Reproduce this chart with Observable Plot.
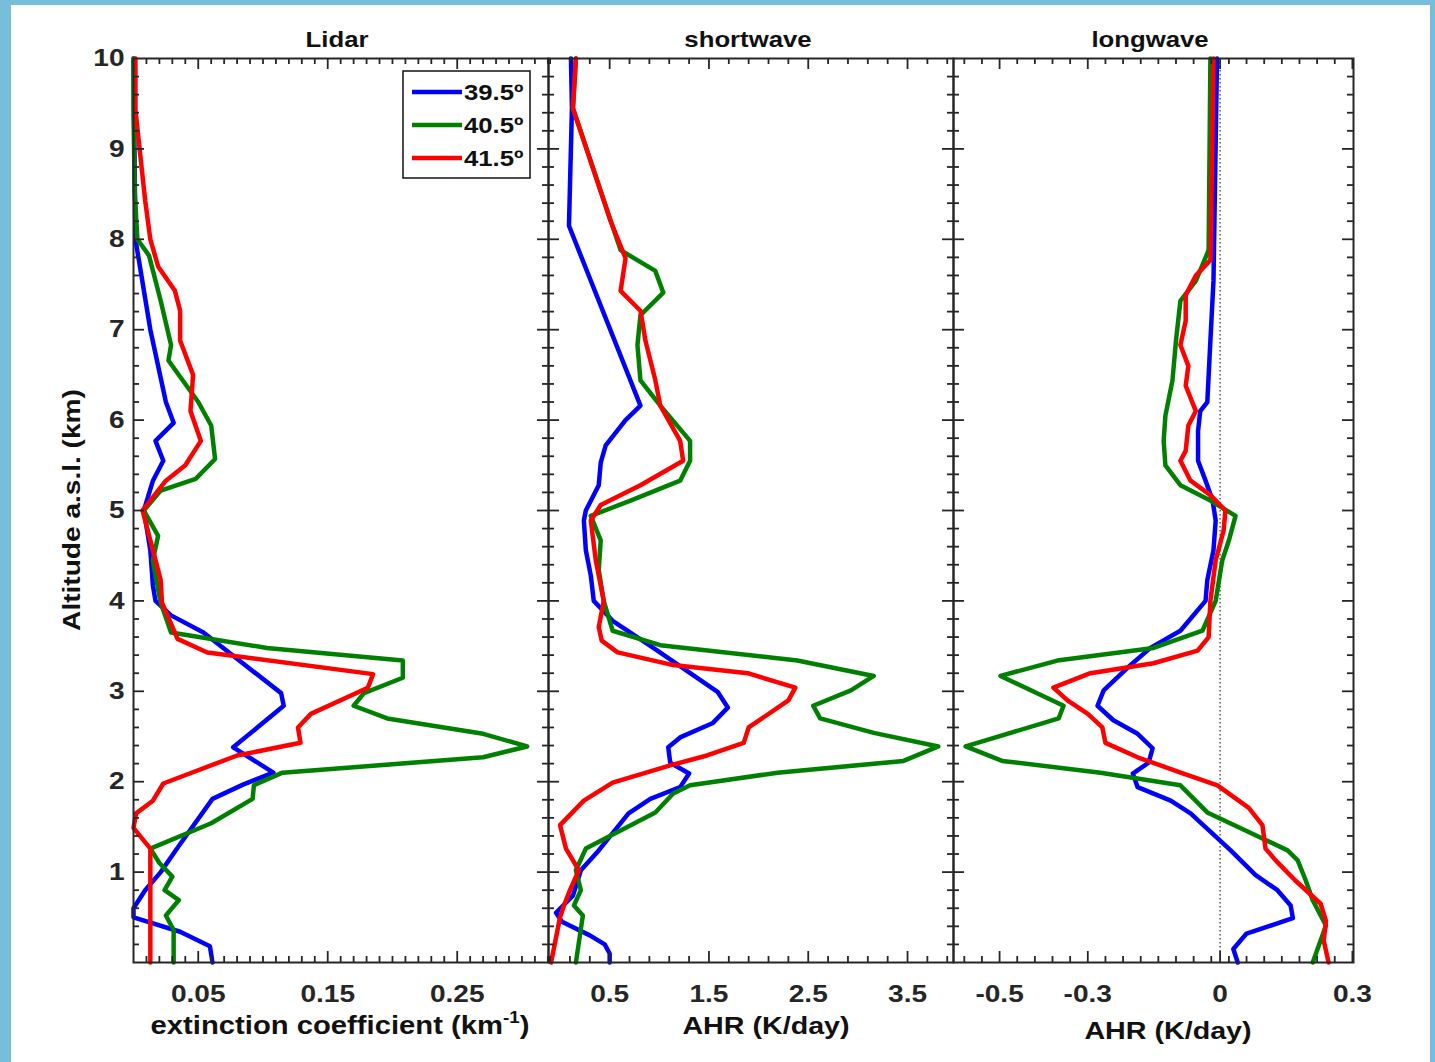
<!DOCTYPE html>
<html><head><meta charset="utf-8">
<script src="https://cdn.jsdelivr.net/npm/d3@7"></script>
<script src="https://cdn.jsdelivr.net/npm/@observablehq/plot@0.6"></script>
<style>
html,body{margin:0;padding:0;}
body{width:1435px;height:1062px;background:#77bedb;position:relative;overflow:hidden;font-family:"Liberation Sans",Arial,sans-serif;}
#page{position:absolute;left:11px;top:5px;width:1419px;height:1057px;background:#fff;}
.panel{position:absolute;}
#overlay{position:absolute;left:0;top:0;}
</style></head><body>
<div id="page"></div>
<div id="charts"></div>
<script>
// ---- data: [altitude km, value] pairs ----
const seriesNames = ["39.5º", "40.5º", "41.5º"];
const seriesColors = ["#0000ff", "#008000", "#ff0000"];

const lidar395 = [[10,0],[8.0,0.0015],[7.0,0.013],[6.2,0.025],[5.97,0.031],[5.77,0.017],[5.55,0.023],[5.33,0.015],[5.0,0.008],[4.56,0.013],[4.17,0.015],[4.0,0.017],[3.84,0.029],[3.65,0.054],[2.98,0.114],[2.84,0.116],[2.38,0.077],[2.10,0.108],[1.97,0.085],[1.81,0.061],[1.27,0.034],[1.0,0.021],[0.8,0.009],[0.6,0],[0.5,0],[0.34,0.036],[0.18,0.059],[0,0.061]];
const lidar405 = [[10,0],[9.4,0],[8.5,0.001],[8.0,0.003],[7.82,0.012],[7.32,0.021],[6.83,0.029],[6.66,0.027],[6.2,0.05],[5.94,0.06],[5.57,0.063],[5.35,0.048],[5.22,0.021],[5.0,0.008],[4.72,0.019],[4.45,0.015],[4.28,0.017],[3.98,0.021],[3.65,0.029],[3.48,0.103],[3.34,0.208],[3.15,0.208],[2.98,0.178],[2.84,0.17],[2.70,0.196],[2.53,0.27],[2.39,0.304],[2.27,0.27],[2.10,0.115],[1.96,0.093],[1.81,0.092],[1.54,0.06],[1.26,0.013],[1.1,0.02],[0.95,0.03],[0.8,0.024],[0.69,0.035],[0.52,0.025],[0.36,0.031],[0,0.031]];
const lidar415 = [[10,0.0015],[9.43,0.0015],[8.43,0.009],[8.0,0.013],[7.7,0.019],[7.43,0.032],[7.21,0.036],[6.88,0.036],[6.5,0.046],[6.1,0.044],[5.77,0.052],[5.5,0.04],[5.33,0.025],[5.0,0.007],[4.67,0.013],[4.23,0.021],[3.98,0.022],[3.58,0.034],[3.43,0.057],[3.19,0.185],[3.04,0.181],[2.75,0.137],[2.60,0.127],[2.43,0.129],[2.29,0.080],[1.98,0.023],[1.79,0.015],[1.65,0.002],[1.49,0],[1.26,0.013],[0,0.013]];

const sw395 = [[10,0.11],[9.45,0.12],[8.15,0.09],[6.16,0.81],[6.0,0.66],[5.72,0.46],[5.53,0.41],[5.28,0.39],[5.0,0.26],[4.89,0.24],[4.56,0.26],[4.28,0.31],[4.0,0.34],[3.78,0.53],[3.48,0.94],[2.99,1.59],[2.82,1.69],[2.65,1.54],[2.49,1.21],[2.38,1.09],[2.21,1.11],[2.09,1.30],[1.94,1.21],[1.81,0.91],[1.65,0.69],[1.24,0.39],[1.02,0.21],[0.74,0.13],[0.55,-0.04],[0.45,0.02],[0.3,0.3],[0.2,0.45],[0.1,0.5],[0,0.5]];
const sw405 = [[10,0.16],[9.45,0.13],[7.88,0.61],[7.65,0.96],[7.41,1.04],[7.16,0.81],[6.83,0.78],[6.44,0.81],[6.16,1.01],[5.77,1.31],[5.55,1.31],[5.33,1.21],[5.11,0.71],[4.94,0.31],[4.67,0.41],[4.34,0.39],[4.0,0.44],[3.67,0.53],[3.51,1.01],[3.34,2.39],[3.17,3.16],[3.01,2.93],[2.84,2.55],[2.70,2.62],[2.54,3.16],[2.39,3.81],[2.23,3.46],[2.10,2.19],[1.96,1.31],[1.87,1.14],[1.66,0.96],[1.26,0.26],[1.02,0.16],[0.8,0.21],[0.63,0.14],[0.52,0.23],[0,0.16]];
const sw415 = [[10,0.16],[9.45,0.13],[8.2,0.51],[7.79,0.66],[7.43,0.61],[7.21,0.81],[6.88,0.86],[6.44,0.96],[6.16,1.01],[5.77,1.21],[5.55,1.24],[5.28,0.81],[5.06,0.41],[4.89,0.31],[4.45,0.36],[4.0,0.44],[3.71,0.39],[3.56,0.42],[3.43,0.58],[3.29,1.14],[3.2,1.89],[3.04,2.37],[2.9,2.30],[2.60,1.90],[2.43,1.85],[2.29,1.48],[2.18,1.11],[1.99,0.53],[1.79,0.24],[1.52,0.0],[1.26,0.06],[1.02,0.19],[0.8,0.1],[0.63,0.04],[0.5,0.0],[0,-0.09]];

const lw395 = [[10,-0.007],[7.54,-0.015],[6.88,-0.022],[6.2,-0.029],[6.1,-0.045],[5.88,-0.05],[5.55,-0.05],[5.33,-0.033],[5.11,-0.017],[4.89,-0.01],[4.56,-0.015],[4.23,-0.029],[4.0,-0.033],[3.67,-0.09],[3.48,-0.158],[3.26,-0.21],[3.01,-0.264],[2.84,-0.278],[2.68,-0.242],[2.53,-0.187],[2.37,-0.153],[2.21,-0.162],[2.09,-0.198],[1.94,-0.187],[1.79,-0.112],[1.65,-0.067],[1.24,0.024],[0.97,0.08],[0.8,0.13],[0.63,0.16],[0.49,0.165],[0.32,0.06],[0.15,0.03],[0,0.04]];
const lw405 = [[10,-0.022],[7.88,-0.026],[7.54,-0.055],[7.32,-0.09],[6.88,-0.1],[6.44,-0.108],[6.05,-0.124],[5.77,-0.128],[5.5,-0.124],[5.28,-0.09],[5.11,-0.022],[4.94,0.035],[4.67,0.02],[4.45,0.005],[4.0,-0.01],[3.67,-0.04],[3.48,-0.151],[3.34,-0.369],[3.17,-0.498],[2.84,-0.355],[2.70,-0.366],[2.39,-0.577],[2.23,-0.494],[2.10,-0.271],[1.96,-0.09],[1.66,-0.029],[1.24,0.153],[1.13,0.176],[0.91,0.194],[0.69,0.21],[0.41,0.24],[0.3,0.232],[0,0.21]];
const lw415 = [[10,-0.015],[7.77,-0.022],[7.6,-0.055],[7.38,-0.078],[7.1,-0.078],[6.83,-0.09],[6.6,-0.072],[6.38,-0.078],[6.1,-0.055],[5.94,-0.072],[5.66,-0.078],[5.55,-0.09],[5.33,-0.067],[5.17,-0.022],[5.0,0.012],[4.78,0.008],[4.45,-0.01],[4.0,-0.022],[3.6,-0.026],[3.45,-0.051],[3.31,-0.151],[3.2,-0.294],[3.04,-0.378],[2.9,-0.346],[2.75,-0.3],[2.60,-0.267],[2.43,-0.26],[2.27,-0.187],[2.09,-0.083],[1.96,-0.006],[1.71,0.065],[1.52,0.096],[1.26,0.103],[1.13,0.126],[0.91,0.17],[0.65,0.228],[0.46,0.24],[0.24,0.235],[0,0.246]];

// tick labels
const yTickLabels = [1,2,3,4,5,6,7,8,9,10];
const lidarTicks = [0.05, 0.15, 0.25];
const swTicks = [0.5, 1.5, 2.5, 3.5];
const lwTicks = [-0.5, -0.3, 0, 0.3];

const panelTitles = ["Lidar", "shortwave", "longwave"];

// ---- layout ----
const FRAME_TOP = 58, FRAME_H = 904;
const STRETCH = 1.17;
const INK = "#262626";
const FONT = "'Liberation Sans', Arial, Helvetica, sans-serif";

function excl(arr, majors) {
  return arr.filter(v => !majors.some(m => Math.abs(m - v) < 1e-9));
}
const yMinor = excl(d3.range(1, 50).map(i => i / 5), d3.range(0, 11));
const yMajor = d3.range(1, 10);

function stretchText(svg) {
  svg.querySelectorAll("text").forEach(t => {
    const tr = t.getAttribute("transform");
    if (tr) t.setAttribute("transform", tr + ` scale(${STRETCH},1)`);
    else {
      const x = +t.getAttribute("x") || 0, y = +t.getAttribute("y") || 0;
      t.removeAttribute("x"); t.removeAttribute("y");
      t.setAttribute("transform", `translate(${x},${y}) scale(${STRETCH},1)`);
    }
  });
}

function panel({left, width, xDomain, data, xMajor, xMinor, showY, zeroLine}) {
  const mL = showY ? 80 : 20, mR = 20, mT = 20, mB = 60;
  const W = width, H = FRAME_H;
  const tk = {stroke: INK, strokeWidth: 1.8};
  const marks = [];
  if (zeroLine) marks.push(Plot.ruleX([0], {stroke: "#000", strokeWidth: 1, strokeDasharray: "1.5,2.5"}));
  data.forEach((d, i) => marks.push(Plot.line(d, {x: p => p[1], y: p => p[0], stroke: seriesColors[i], strokeWidth: 4.5, strokeLinejoin: "round"})));
  // inward ticks on all four sides
  marks.push(
    Plot.ruleX(xMinor, {...tk, insetTop: H - 6}),
    Plot.ruleX(xMinor, {...tk, insetBottom: H - 6}),
    Plot.ruleX(xMajor, {...tk, insetTop: H - 11}),
    Plot.ruleX(xMajor, {...tk, insetBottom: H - 11}),
    Plot.ruleY(yMinor, {...tk, insetRight: W - 6}),
    Plot.ruleY(yMinor, {...tk, insetLeft: W - 6}),
    Plot.ruleY(yMajor, {...tk, insetRight: W - 11}),
    Plot.ruleY(yMajor, {...tk, insetLeft: W - 11}),
    Plot.frame({stroke: INK, strokeWidth: 2}),
    Plot.axisX(xMajor, {anchor: "bottom", tickSize: 0, tickPadding: 22, tickFormat: d => String(d), label: null})
  );
  if (showY) marks.push(Plot.axisY(yTickLabels, {anchor: "left", tickSize: 0, tickPadding: 9, tickFormat: d => String(d), label: null}));
  const svg = Plot.plot({
    width: W + mL + mR, height: H + mT + mB,
    marginLeft: mL, marginRight: mR, marginTop: mT, marginBottom: mB,
    x: {domain: xDomain},
    y: {domain: [0, 10], axis: showY ? undefined : null},
    style: `background: transparent; overflow: visible; font-family: ${FONT}; font-size: 24px; font-weight: bold; color: ${INK}; max-width: none;`,
    marks
  });
  stretchText(svg);
  const wrap = document.createElement("div");
  wrap.className = "panel";
  wrap.style.left = (left - mL) + "px";
  wrap.style.top = (FRAME_TOP - mT) + "px";
  wrap.appendChild(svg);
  document.getElementById("charts").appendChild(wrap);
}

panel({left: 133, width: 415, xDomain: [0, 0.3205], data: [lidar395, lidar405, lidar415],
  xMajor: lidarTicks, xMinor: excl(d3.range(1, 33).map(i => i / 100), lidarTicks), showY: true});
panel({left: 548, width: 405, xDomain: [-0.116, 3.963], data: [sw395, sw405, sw415],
  xMajor: swTicks, xMinor: excl(d3.range(-1, 40, 2).map(i => i / 10), swTicks)});
panel({left: 953, width: 400, xDomain: [-0.6045, 0.3025], data: [lw395, lw405, lw415],
  xMajor: lwTicks, xMinor: excl(d3.range(-58, 31, 4).map(i => i / 100), lwTicks), zeroLine: true});

// ---- titles, axis labels, legend ----
const ov = d3.select("body").append("svg").attr("id", "overlay")
  .attr("width", 1435).attr("height", 1062)
  .style("font-family", FONT).style("font-weight", "bold");
const stxt = (x, y, s, size, anchor, extra = "") => ov.append("text")
  .attr("transform", `translate(${x},${y}) ${extra} scale(${STRETCH},1)`)
  .attr("text-anchor", anchor).attr("font-size", size).attr("fill", "#111").text(s);

[[337, panelTitles[0]], [748, panelTitles[1]], [1150, panelTitles[2]]].forEach(([x, s]) => stxt(x, 47, s, 22, "middle"));

// y label
stxt(80, 510, "Altitude a.s.l. (km)", 24, "middle", "rotate(-90)");

// x labels
const xl = ov.append("text").attr("transform", `translate(340,1034) scale(${STRETCH},1)`)
  .attr("text-anchor", "middle").attr("font-size", 25).attr("fill", "#111");
xl.append("tspan").text("extinction coefficient (km");
xl.append("tspan").attr("font-size", 16).attr("dy", -11).text("-1");
xl.append("tspan").attr("dy", 11).text(")");
stxt(766, 1034, "AHR (K/day)", 24.5, "middle");
stxt(1168, 1039, "AHR (K/day)", 24.5, "middle");

// legend
const lg = ov.append("g");
lg.append("rect").attr("x", 403).attr("y", 71).attr("width", 127).attr("height", 107)
  .attr("fill", "#fff").attr("stroke", "#111").attr("stroke-width", 1.5);
seriesNames.forEach((n, i) => {
  const y = 92 + i * 33;
  lg.append("line").attr("x1", 412).attr("x2", 462).attr("y1", y).attr("y2", y)
    .attr("stroke", seriesColors[i]).attr("stroke-width", 4.5);
  lg.append("text").attr("transform", `translate(464,${y + 8}) scale(${STRETCH},1)`)
    .attr("font-size", 22).attr("fill", "#111").text(n);
});
</script>
</body></html>
